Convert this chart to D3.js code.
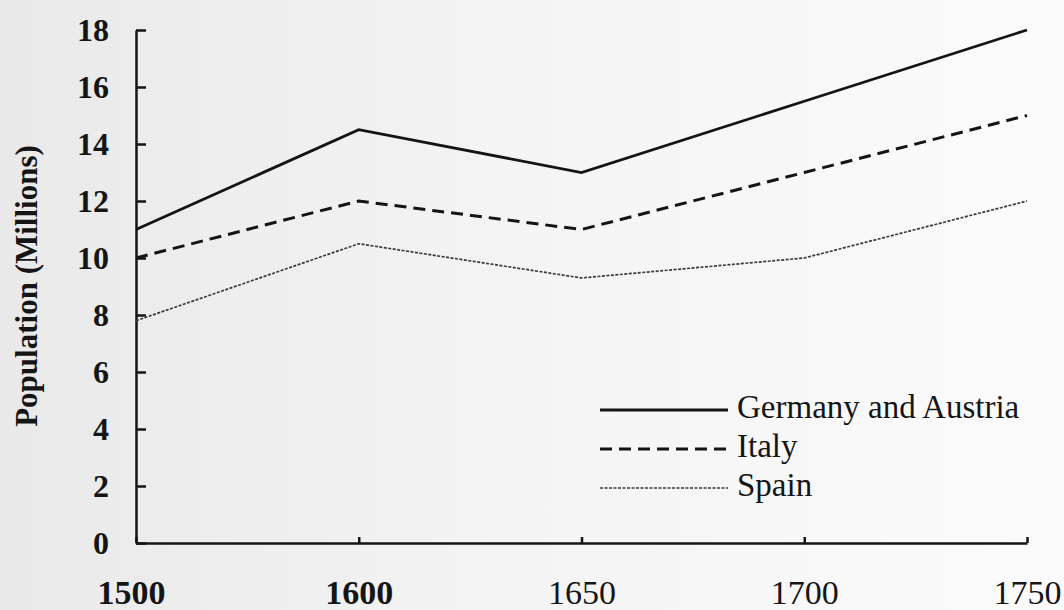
<!DOCTYPE html>
<html lang="en">
<head>
    <meta charset="UTF-8">
    <script src="https://d3js.org/d3.v7.min.js"></script>
    <title>Population</title>
    <style>
        body { margin: 0; background: #f2f2f2; }
        text { font-family: "Liberation Serif", "DejaVu Serif", serif; fill: #151515; }
        .axis .domain, .axis line { stroke: #151515; stroke-width: 2.5; }
    </style>
</head>
<body>
<svg id="s1" width="1064" height="610"></svg>
<script>
    // chart values
    const years = ["1500", "1600", "1650", "1700", "1750"];
    const germany = [11, 14.5, 13, 15.5, 18];
    const italy = [10, 12, 11, 13, 15];
    const spain = [7.8, 10.5, 9.3, 10, 12];
    const seriesNames = ["Germany and Austria", "Italy", "Spain"];
    const yTicks = [0, 2, 4, 6, 8, 10, 12, 14, 16, 18];

    const series = [
        {name: seriesNames[0], values: germany, width: 2.8, dash: null, color: "#141414"},
        {name: seriesNames[1], values: italy, width: 3, dash: "12,7", color: "#141414"},
        {name: seriesNames[2], values: spain, width: 1.7, dash: "3,1.5", color: "#3a3a3a"}
    ];

    const svg = d3.select("svg#s1");

    // scanned-paper background
    const defs = svg.append("defs");
    const grad = defs.append("linearGradient").attr("id", "bg").attr("x1", "0").attr("x2", "1");
    grad.append("stop").attr("offset", "0").attr("stop-color", "#e9e9e9");
    grad.append("stop").attr("offset", "0.5").attr("stop-color", "#f4f4f4");
    grad.append("stop").attr("offset", "1").attr("stop-color", "#fbfbfb");
    svg.append("rect").attr("width", 1064).attr("height", 610).attr("fill", "url(#bg)");

    const x = d3.scalePoint().domain(years).range([136, 1027]);
    const y = d3.scaleLinear().domain([0, 18]).range([543, 30]);

    // y axis, ticks pointing inward
    const yAxis = svg.append("g")
        .attr("class", "axis")
        .attr("transform", "translate(136,0)")
        .call(d3.axisLeft(y).tickValues(yTicks).tickSize(-10).tickPadding(27).tickSizeOuter(0));
    yAxis.selectAll("text")
        .style("font-size", "32px")
        .style("font-weight", "bold")
        .style("font-family", "Liberation Serif, serif");

    // x axis, ticks pointing up
    const xAxis = svg.append("g")
        .attr("class", "axis")
        .attr("transform", "translate(0,543)")
        .call(d3.axisBottom(x).tickSize(-6).tickPadding(38).tickSizeOuter(0));
    xAxis.selectAll("text")
        .attr("dy", "0.71em")
        .attr("y", 37)
        .style("font-size", "34px")
        .style("font-family", "Liberation Serif, serif")
        .style("font-weight", (d, i) => i < 2 ? "bold" : "normal");
    xAxis.select(".tick text").attr("dx", "-5");

    // y axis title
    svg.append("text")
        .attr("transform", "translate(37,286) rotate(-90)")
        .attr("text-anchor", "middle")
        .style("font-size", "31px")
        .style("font-weight", "bold")
        .text("Population (Millions)");

    const line = d3.line()
        .x((d, i) => x(years[i]))
        .y(d => y(d));

    svg.append("g").selectAll("path").data(series)
        .join("path")
        .attr("d", d => line(d.values))
        .attr("fill", "none")
        .attr("stroke", d => d.color)
        .attr("stroke-width", d => d.width)
        .attr("stroke-dasharray", d => d.dash);

    // legend
    const legend = svg.append("g").attr("transform", "translate(600,410)");
    const rows = legend.selectAll("g").data(series)
        .join("g")
        .attr("transform", (d, i) => "translate(0," + (i * 39) + ")");
    rows.append("line")
        .attr("x1", 0).attr("x2", 128)
        .attr("stroke", d => d.color)
        .attr("stroke-width", d => d.width)
        .attr("stroke-dasharray", d => d.dash);
    rows.append("text")
        .attr("x", 137)
        .attr("y", 8)
        .style("font-size", "33px")
        .text(d => d.name);
</script>
</body>
</html>
